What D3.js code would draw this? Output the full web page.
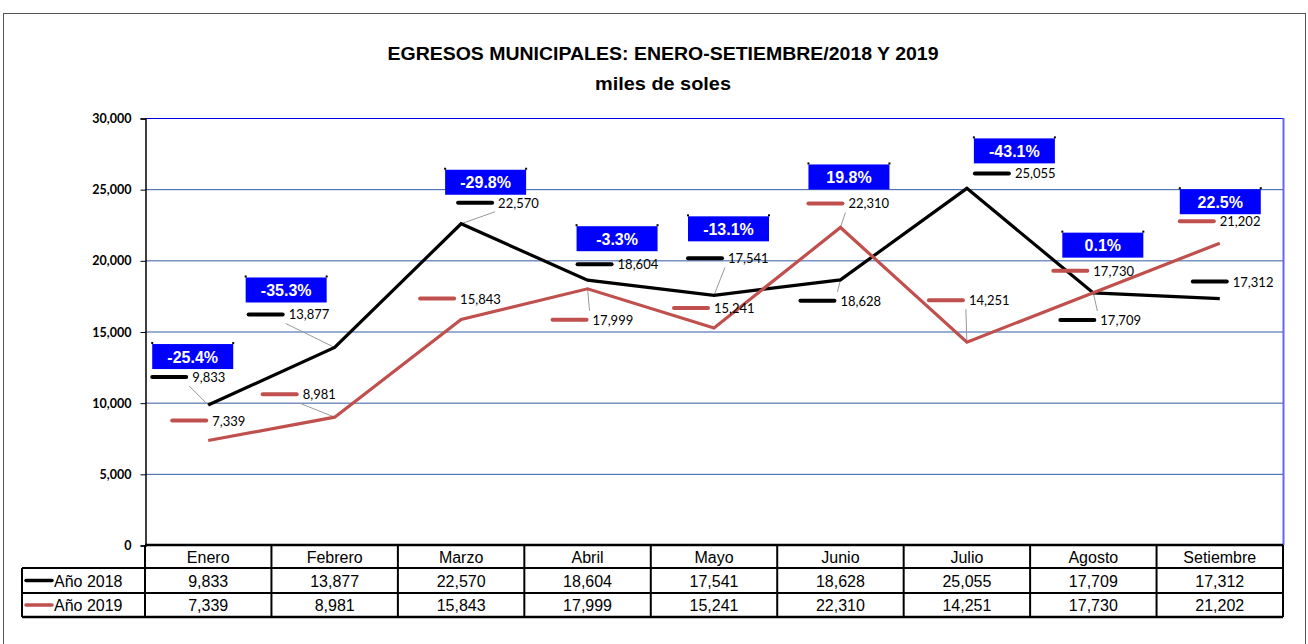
<!DOCTYPE html>
<meta charset="utf-8">
<style>
body { margin: 0; background: #fff; }
svg { display: block; }
.ylab text { font: bold 12.5px Lato, sans-serif; fill: #000; }
.tbl text { font: 16px "Liberation Sans", Arial, sans-serif; fill: #000; }
.lbl { font: 13px Lato, sans-serif; fill: #000; }
.pct { font: bold 16px "Liberation Sans", Arial, sans-serif; fill: #fff; }
</style>
<body>
<svg width="1308" height="644"></svg>
<script src="https://d3js.org/d3.v7.min.js"></script>
<script>

var meses = ["Enero", "Febrero", "Marzo", "Abril", "Mayo", "Junio", "Julio", "Agosto", "Setiembre"];
var anio2018 = [9833, 13877, 22570, 18604, 17541, 18628, 25055, 17709, 17312];
var anio2019 = [7339, 8981, 15843, 17999, 15241, 22310, 14251, 17730, 21202];
var variacion = [-25.4, -35.3, -29.8, -3.3, -13.1, 19.8, -43.1, 0.1, 22.5];
var yTicks = [0, 5000, 10000, 15000, 20000, 25000, 30000];

// label placement (offset of legend key from its point, leader line on/off)
var lab2018 = [[-56, -28, 1], [-86, -33, 1], [-3, -21, 1], [-10, -16, 0], [-26, -37, 1],
               [-40, 21, 1], [8, -15, 0], [-33, 27, 1], [-27, -17, 0]];
var lab2019 = [[-36, -20, 0], [-72, -23, 1], [-41, -21, 0], [-35, 31, 1], [-40, -20, 0],
               [-32, -24, 1], [-38, -42, 1], [-40, -22, 0], [-40, -22, 0]];
// % box offset from column centre / upper point
var boxOff = [[-56, -61], [-89, -70], [-16, -54], [-11, -54], [-26, -79],
              [-32, -63], [7, -50], [-31, -60], [-40, -54]];

var svg = d3.select("svg");
var plotL = 145, plotR = 1283, plotT = 118, plotB = 545;

var x = d3.scaleBand().domain(meses).range([plotL, plotR]);
var y = d3.scaleLinear().domain([0, 30000]).range([plotB, plotT]);
var cx = function(m) { return x(m) + x.bandwidth() / 2; };
var loc = d3.formatLocale({ decimal: ".", thousands: ",", grouping: [3], currency: ["", ""], minus: "-" });
var fmt = loc.format(",");

// outer frame
svg.append("rect")
    .attr("x", 3.5).attr("y", 13.5).attr("width", 1302).attr("height", 700)
    .attr("fill", "none").attr("stroke", "#555").attr("stroke-width", 1);

// title
svg.append("text")
    .attr("x", 663).attr("y", 60).attr("text-anchor", "middle")
    .attr("textLength", 551).attr("lengthAdjust", "spacingAndGlyphs")
    .style("font", "bold 18px 'Liberation Sans', Arial, sans-serif")
    .text("EGRESOS MUNICIPALES: ENERO-SETIEMBRE/2018 Y 2019");
svg.append("text")
    .attr("x", 663).attr("y", 90).attr("text-anchor", "middle")
    .attr("textLength", 136).attr("lengthAdjust", "spacingAndGlyphs")
    .style("font", "bold 18px 'Liberation Sans', Arial, sans-serif")
    .text("miles de soles");

// gridlines
svg.append("g").selectAll("line")
    .data(yTicks.filter(function(d) { return d > 0; }))
  .enter().append("line")
    .attr("x1", plotL).attr("x2", plotR)
    .attr("y1", function(d) { return y(d) + 0.5; })
    .attr("y2", function(d) { return y(d) + 0.5; })
    .attr("stroke", function(d) { return d === 30000 ? "#0000ee" : "#335ca6"; })
    .attr("stroke-width", 1);

svg.append("line")
    .attr("x1", plotR + 0.5).attr("x2", plotR + 0.5).attr("y1", plotT).attr("y2", plotB)
    .attr("stroke", "#6464ff").attr("stroke-width", 2);

// y axis
var yAxis = svg.append("g")
    .attr("class", "ylab")
    .attr("transform", "translate(" + (plotL + 0.5) + ",0.5)")
    .call(d3.axisLeft(y).tickValues(yTicks).tickFormat(fmt).tickSize(5).tickPadding(9));
yAxis.select(".domain").attr("stroke", "#000").attr("stroke-width", 1.5);
yAxis.selectAll(".tick line").attr("stroke", "#000");

// series lines
var line = d3.line().x(function(d, i) { return cx(meses[i]); }).y(function(d) { return y(d); });
var series = [
  { name: "Año 2018", values: anio2018, color: "#000000", lab: lab2018 },
  { name: "Año 2019", values: anio2019, color: "#c0504d", lab: lab2019 }
];

// leader lines
series.forEach(function(s) {
  s.values.forEach(function(v, i) {
    var o = s.lab[i];
    if (!o[2]) return;
    var px = cx(meses[i]), py = y(v);
    var kx = px + o[0], ky = py + o[1];
    var ax = kx + 37, ay = py > ky ? ky + 9 : ky - 9;
    svg.append("line")
        .attr("x1", ax).attr("y1", ay).attr("x2", px).attr("y2", py)
        .attr("stroke", "#999").attr("stroke-width", 1);
  });
});

series.forEach(function(s) {
  svg.append("path")
      .datum(s.values)
      .attr("d", line)
      .attr("fill", "none")
      .attr("stroke", s.color)
      .attr("stroke-width", 3.2)
      .attr("stroke-linejoin", "miter");
});

// data labels with legend key
series.forEach(function(s) {
  var g = svg.append("g").selectAll("g")
      .data(s.values)
    .enter().append("g")
      .attr("transform", function(d, i) {
        return "translate(" + (cx(meses[i]) + s.lab[i][0]) + "," + (y(d) + s.lab[i][1]) + ")";
      });
  g.append("line")
      .attr("x1", 0).attr("x2", 34).attr("y1", 0).attr("y2", 0)
      .attr("stroke", s.color).attr("stroke-width", 4).attr("stroke-linecap", "round");
  g.append("text")
      .attr("class", "lbl")
      .attr("x", 40).attr("y", 5)
      .text(function(d) { return fmt(d); });
});

// % change boxes
var pctFmt = loc.format(".1f");
var boxes = svg.append("g").selectAll("g")
    .data(variacion)
  .enter().append("g")
    .attr("transform", function(d, i) {
      var yt = y(Math.max(anio2018[i], anio2019[i]));
      return "translate(" + (cx(meses[i]) + boxOff[i][0]) + "," + (yt + boxOff[i][1]) + ")";
    });
boxes.append("rect")
    .attr("width", 81).attr("height", 25)
    .attr("fill", "#0000ff");
boxes.append("rect").attr("x", -1).attr("y", -2).attr("width", 2).attr("height", 2).attr("fill", "#000");
boxes.append("rect").attr("x", 80).attr("y", -2).attr("width", 2).attr("height", 2).attr("fill", "#000");
boxes.append("text")
    .attr("class", "pct")
    .attr("x", 40.5).attr("y", 18.5)
    .attr("text-anchor", "middle")
    .text(function(d) { return pctFmt(d) + "%"; });

// data table
var rowY = [545, 568, 593, 617];
var tbl = svg.append("g").attr("class", "tbl");

tbl.selectAll("text.mes")
    .data(meses)
  .enter().append("text")
    .attr("class", "mes")
    .attr("x", function(d) { return cx(d); })
    .attr("y", 563)
    .attr("text-anchor", "middle")
    .text(function(d) { return d; });

series.forEach(function(s, r) {
  var yy = (rowY[r + 1] + rowY[r + 2]) / 2;
  tbl.selectAll(null)
      .data(s.values)
    .enter().append("text")
      .attr("x", function(d, i) { return cx(meses[i]); })
      .attr("y", yy + 6)
      .attr("text-anchor", "middle")
      .text(function(d) { return fmt(d); });
  tbl.append("line")
      .attr("x1", 26).attr("x2", 52).attr("y1", yy).attr("y2", yy)
      .attr("stroke", s.color).attr("stroke-width", 3.5).attr("stroke-linecap", "round");
  tbl.append("text")
      .attr("x", 54).attr("y", yy + 6)
      .text(s.name);
});

// table grid
var hl = [[plotL, plotR, 545], [22, plotR, 568], [22, plotR, 593], [22, plotR, 617]];
hl.forEach(function(h, i) {
  tbl.append("line")
      .attr("x1", h[0]).attr("x2", h[1]).attr("y1", h[2]).attr("y2", h[2])
      .attr("stroke", "#000").attr("stroke-width", i === 0 || i === 3 ? 2.5 : 2);
});
var vx = meses.map(function(m) { return x(m); }).concat([plotR]);
vx.forEach(function(v) {
  tbl.append("line")
      .attr("x1", v).attr("x2", v).attr("y1", 545).attr("y2", 617)
      .attr("stroke", "#000").attr("stroke-width", 2);
});
tbl.append("line")
    .attr("x1", 22).attr("x2", 22).attr("y1", 568).attr("y2", 617)
    .attr("stroke", "#000").attr("stroke-width", 2);

</script>
</body>
